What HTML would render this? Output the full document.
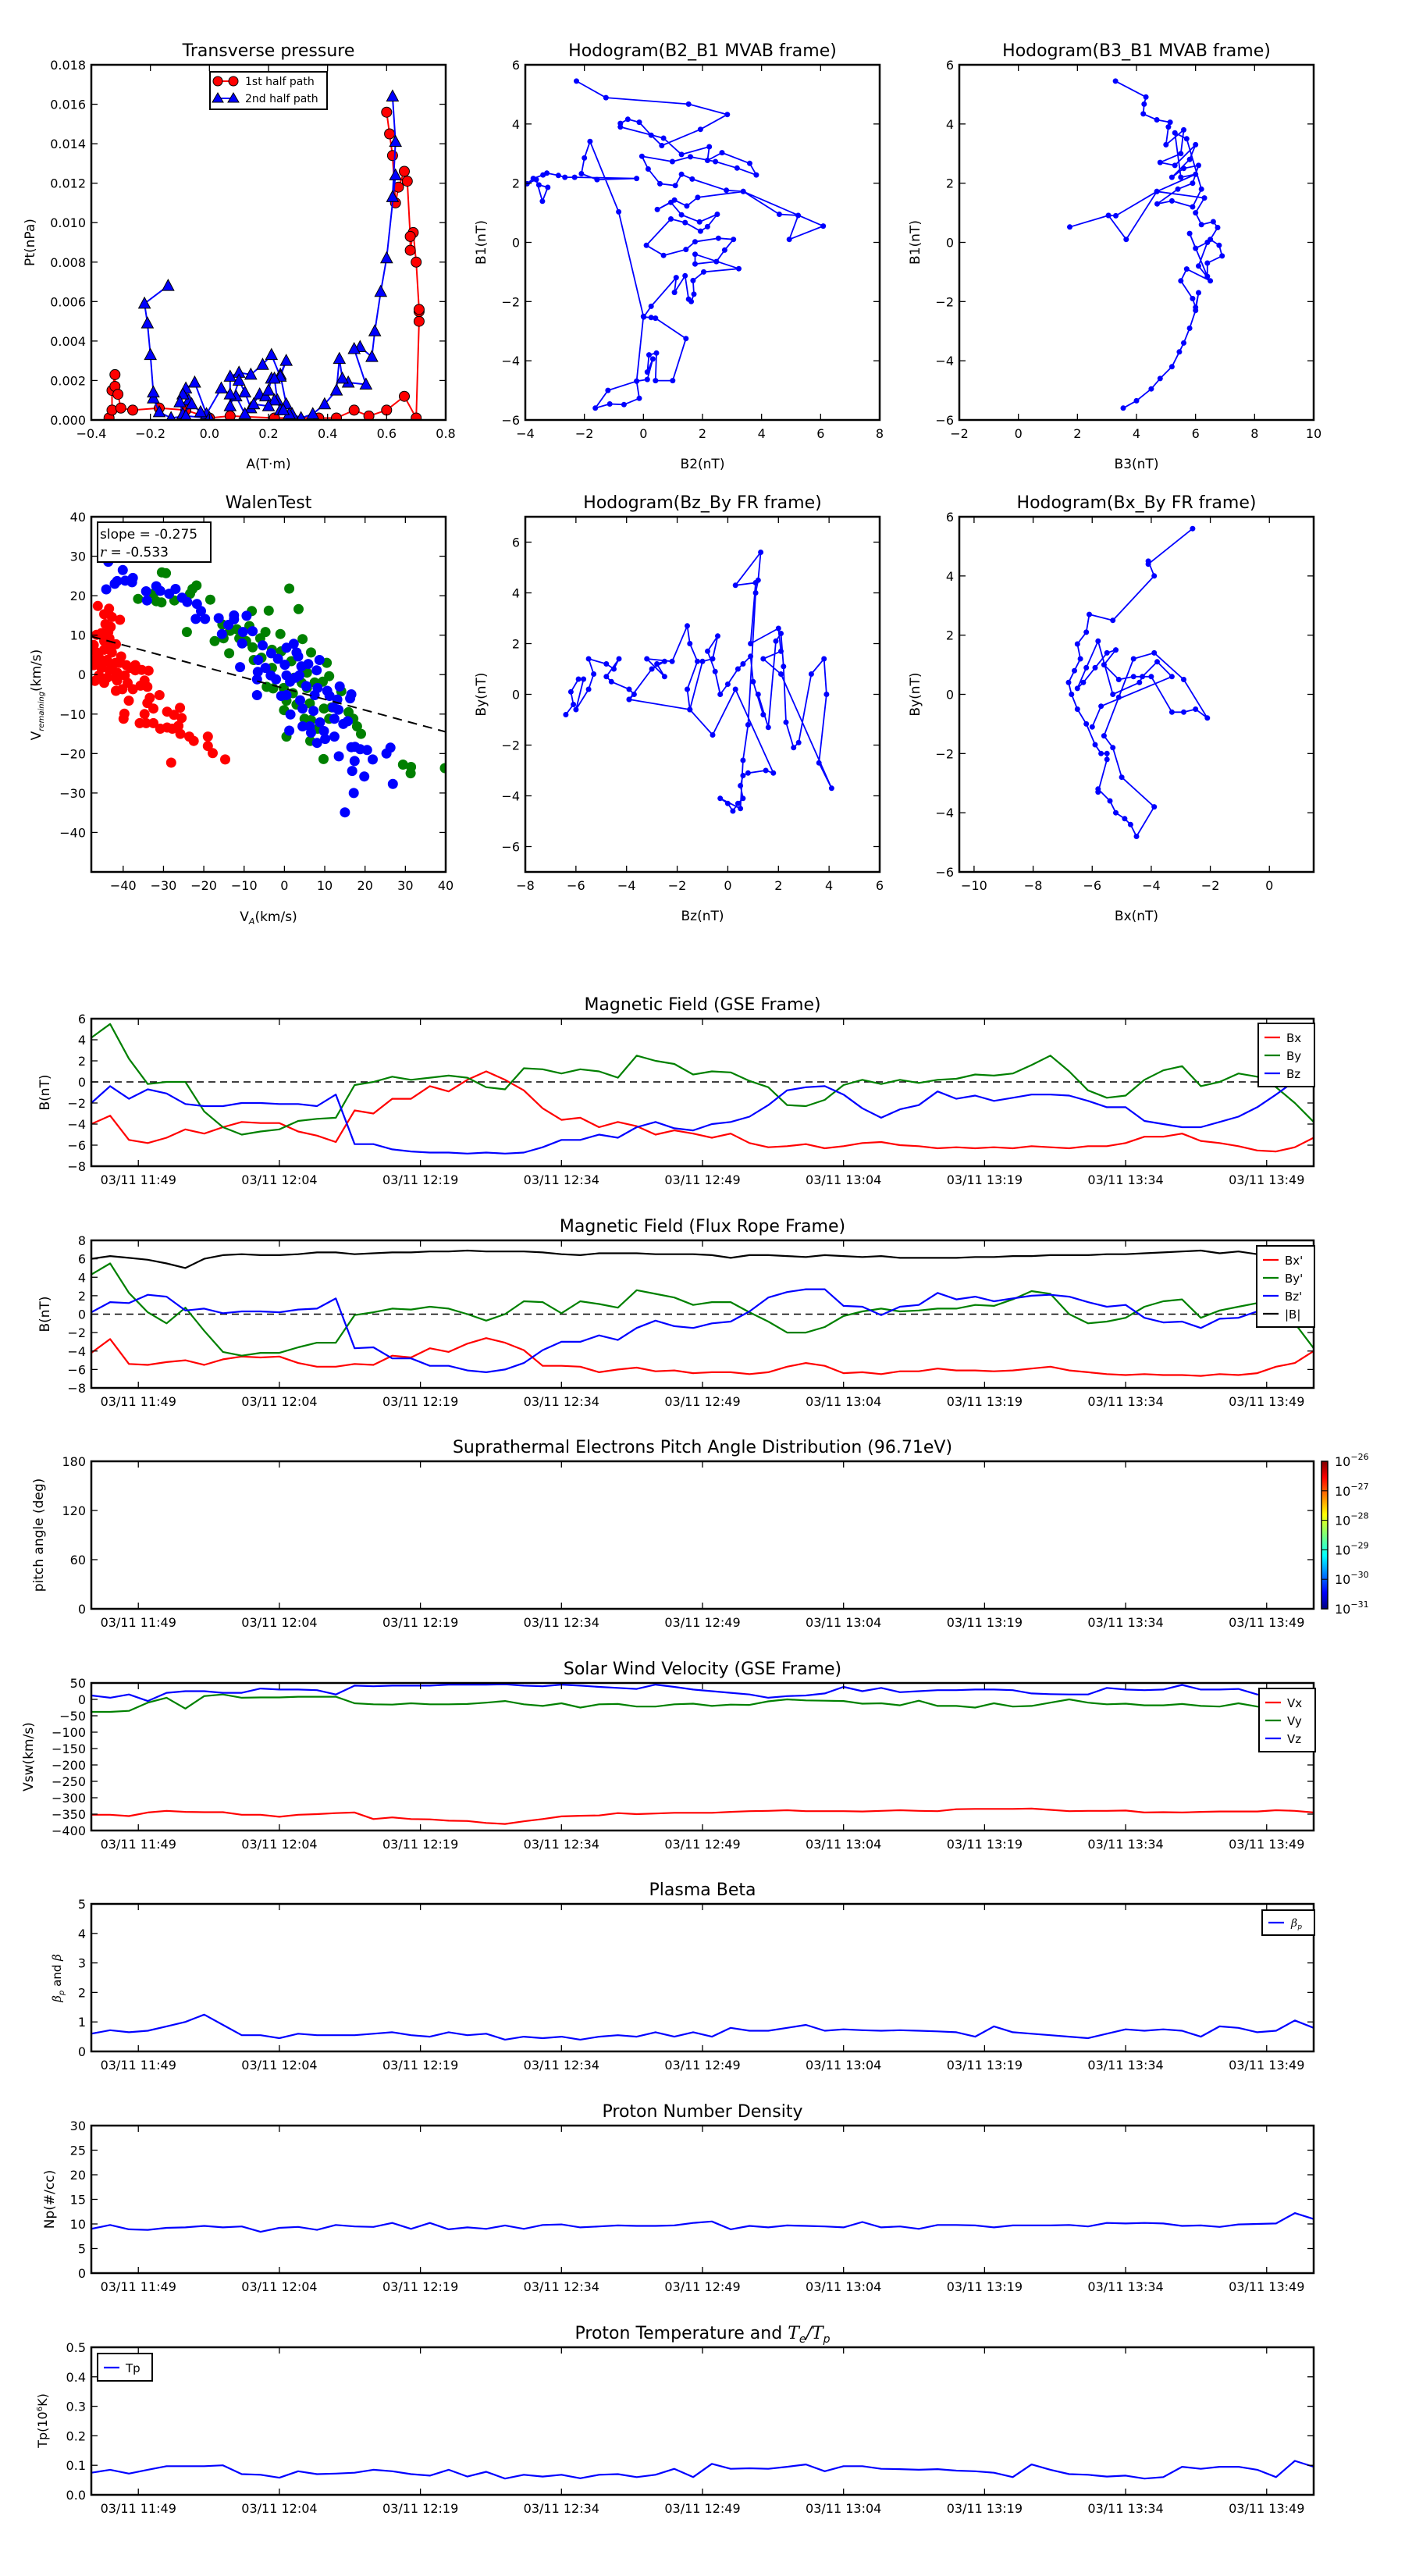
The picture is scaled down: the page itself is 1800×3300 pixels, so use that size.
<!DOCTYPE html>
<html><head><meta charset="utf-8"><title>Flux rope analysis</title>
<style>
html,body{margin:0;padding:0;background:#fff;}
svg{display:block;font-family:"DejaVu Sans","Liberation Sans",sans-serif;}
</style></head>
<body>
<svg id="fig" width="1800" height="3300" viewBox="0 0 1800 3300" xmlns="http://www.w3.org/2000/svg">
<defs>
<linearGradient id="jet" x1="0" y1="1" x2="0" y2="0">
<stop offset="0" stop-color="#00007f"/><stop offset="0.11" stop-color="#0000ff"/><stop offset="0.36" stop-color="#00ffff"/><stop offset="0.5" stop-color="#7dff7a"/><stop offset="0.64" stop-color="#ffff00"/><stop offset="0.89" stop-color="#ff0000"/><stop offset="1" stop-color="#7f0000"/>
</linearGradient>
</defs>
</svg>
<script>
// ---------- time series data (2-min samples from 11:44) ----------
const tLabels = ["03/11 11:49","03/11 12:04","03/11 12:19","03/11 12:34","03/11 12:49","03/11 13:04","03/11 13:19","03/11 13:34","03/11 13:49"];
const tTicks = [5,20,35,50,65,80,95,110,125];
const gseBx = [-4.0,-3.2,-5.5,-5.8,-5.3,-4.5,-4.9,-4.3,-3.8,-3.9,-3.9,-4.7,-5.1,-5.7,-2.7,-3.0,-1.6,-1.6,-0.4,-0.9,0.2,1.0,0.2,-0.8,-2.5,-3.6,-3.4,-4.3,-3.8,-4.2,-5.0,-4.6,-4.9,-5.3,-4.9,-5.8,-6.2,-6.1,-5.9,-6.3,-6.1,-5.8,-5.7,-6.0,-6.1,-6.3,-6.2,-6.3,-6.2,-6.3,-6.1,-6.2,-6.3,-6.1,-6.1,-5.8,-5.2,-5.2,-4.9,-5.6,-5.8,-6.1,-6.5,-6.6,-6.2,-5.3];
const gseBy = [4.2,5.5,2.2,-0.2,0,0,-2.8,-4.3,-5.0,-4.7,-4.5,-3.7,-3.5,-3.4,-0.3,0,0.5,0.2,0.4,0.6,0.4,-0.5,-0.7,1.3,1.2,0.8,1.2,1.0,0.4,2.5,2.0,1.7,0.7,1.0,0.9,0.1,-0.5,-2.2,-2.3,-1.7,-0.3,0.2,-0.2,0.2,-0.1,0.2,0.3,0.7,0.6,0.8,1.6,2.5,1.0,-0.8,-1.5,-1.3,0.2,1.1,1.5,-0.4,0,0.8,0.5,-0.5,-2.0,-3.8];
const gseBz = [-2,-0.4,-1.6,-0.7,-1.1,-2.1,-2.3,-2.3,-2.0,-2.0,-2.1,-2.1,-2.3,-1.2,-5.9,-5.9,-6.4,-6.6,-6.7,-6.7,-6.8,-6.7,-6.8,-6.7,-6.2,-5.5,-5.5,-5.0,-5.3,-4.3,-3.8,-4.4,-4.6,-4.0,-3.8,-3.3,-2.2,-0.8,-0.5,-0.4,-1.2,-2.5,-3.4,-2.6,-2.2,-0.9,-1.6,-1.3,-1.8,-1.5,-1.2,-1.2,-1.3,-1.8,-2.4,-2.4,-3.7,-4.0,-4.3,-4.3,-3.8,-3.3,-2.4,-1.2,0.1,1.8];
const frBx = [-4.2,-2.7,-5.4,-5.5,-5.2,-5.0,-5.5,-4.9,-4.6,-4.7,-4.6,-5.3,-5.7,-5.7,-5.4,-5.5,-4.5,-4.7,-3.7,-4.1,-3.2,-2.6,-3.1,-3.9,-5.6,-5.6,-5.7,-6.3,-6.0,-5.8,-6.2,-6.1,-6.4,-6.3,-6.3,-6.5,-6.3,-5.7,-5.3,-5.6,-6.4,-6.3,-6.5,-6.2,-6.2,-5.9,-6.1,-6.1,-6.2,-6.1,-5.9,-5.7,-6.1,-6.3,-6.5,-6.6,-6.5,-6.6,-6.6,-6.7,-6.5,-6.6,-6.4,-5.7,-5.3,-4.0];
const frBy = [4.3,5.5,2.3,0.2,-1.0,0.7,-1.8,-4.1,-4.5,-4.2,-4.2,-3.6,-3.1,-3.1,-0.1,0.2,0.6,0.5,0.8,0.6,0,-0.7,0,1.4,1.3,0.1,1.4,1.1,0.7,2.6,2.2,1.8,1.0,1.3,1.3,0.2,-0.8,-2.0,-2.0,-1.4,-0.2,0.3,0.6,0.3,0.4,0.6,0.6,1.0,0.9,1.6,2.5,2.2,0.0,-1.0,-0.8,-0.4,0.8,1.4,1.6,-0.4,0.4,0.8,1.2,-0.5,-1.0,-3.7];
const frBz = [0.2,1.3,1.2,2.1,1.9,0.4,0.6,0.1,0.3,0.3,0.2,0.5,0.6,1.7,-3.7,-3.6,-4.8,-4.8,-5.6,-5.6,-6.1,-6.3,-6.0,-5.3,-3.9,-3.0,-3.0,-2.3,-2.8,-1.5,-0.7,-1.3,-1.5,-1.0,-0.8,0.3,1.8,2.4,2.7,2.7,0.9,0.8,-0.1,0.8,1.0,2.3,1.6,1.9,1.4,1.7,2.0,2.1,1.9,1.3,0.8,1.0,-0.4,-0.9,-0.8,-1.5,-0.5,-0.4,0.3,1.5,2.8,4.0];
const frBt = [6.0,6.3,6.1,5.9,5.5,5.0,6.0,6.4,6.5,6.4,6.4,6.5,6.7,6.7,6.5,6.6,6.7,6.7,6.8,6.8,6.9,6.8,6.8,6.8,6.7,6.5,6.4,6.6,6.6,6.6,6.5,6.5,6.5,6.4,6.1,6.4,6.4,6.3,6.2,6.4,6.3,6.2,6.3,6.1,6.1,6.1,6.1,6.2,6.2,6.3,6.3,6.4,6.4,6.4,6.5,6.5,6.6,6.7,6.8,6.9,6.6,6.8,6.5,6.5,6.8,6.6];
const vx = [-352,-352,-356,-345,-340,-343,-344,-344,-352,-352,-358,-352,-350,-347,-345,-365,-360,-365,-366,-370,-371,-377,-380,-372,-365,-357,-355,-354,-347,-350,-348,-346,-346,-346,-343,-341,-340,-338,-341,-341,-341,-342,-340,-338,-340,-341,-335,-334,-334,-334,-333,-337,-341,-340,-340,-339,-345,-344,-345,-343,-342,-342,-342,-338,-340,-345];
const vy = [-38,-38,-35,-10,5,-28,10,15,5,6,6,8,8,8,-12,-15,-16,-12,-15,-15,-14,-10,-5,-15,-20,-12,-25,-15,-14,-22,-22,-15,-13,-20,-16,-17,-6,0,-3,-4,-5,-13,-12,-18,-4,-20,-20,-25,-12,-22,-20,-10,0,-10,-15,-13,-18,-18,-14,-20,-22,-12,-22,-30,-35,-45];
const vz = [12,5,15,-5,20,25,25,20,20,33,30,30,28,15,42,40,42,42,42,45,45,45,46,42,40,45,42,38,35,32,45,38,30,25,20,15,5,10,12,18,38,25,35,22,25,28,28,30,30,28,18,16,15,15,35,30,28,30,44,30,30,32,15,12,10,0];
const beta = [0.6,0.72,0.65,0.7,0.85,1.0,1.25,0.9,0.55,0.55,0.45,0.6,0.55,0.55,0.55,0.6,0.65,0.55,0.5,0.65,0.55,0.6,0.4,0.5,0.45,0.5,0.4,0.5,0.55,0.5,0.65,0.5,0.65,0.5,0.8,0.7,0.7,0.8,0.9,0.7,0.75,0.72,0.7,0.72,0.7,0.68,0.65,0.5,0.85,0.65,0.6,0.55,0.5,0.45,0.6,0.75,0.7,0.75,0.7,0.5,0.85,0.8,0.65,0.7,1.05,0.8];
const np = [9,9.8,8.9,8.8,9.2,9.3,9.6,9.3,9.5,8.4,9.2,9.4,8.8,9.8,9.5,9.4,10.2,9,10.2,8.9,9.3,9,9.7,9,9.8,9.9,9.3,9.5,9.7,9.6,9.6,9.7,10.2,10.5,8.9,9.6,9.3,9.7,9.6,9.5,9.3,10.4,9.3,9.5,9,9.8,9.8,9.7,9.3,9.7,9.7,9.7,9.8,9.5,10.2,10.1,10.2,10.1,9.6,9.7,9.4,9.9,10,10.1,12.2,11];
const tp = [0.075,0.085,0.072,0.085,0.097,0.097,0.097,0.1,0.07,0.068,0.058,0.08,0.07,0.072,0.075,0.085,0.08,0.07,0.065,0.085,0.062,0.078,0.055,0.068,0.062,0.068,0.056,0.068,0.07,0.06,0.068,0.088,0.06,0.105,0.088,0.09,0.088,0.095,0.103,0.08,0.097,0.097,0.088,0.087,0.085,0.087,0.082,0.08,0.075,0.06,0.103,0.085,0.07,0.068,0.062,0.065,0.055,0.06,0.095,0.088,0.095,0.095,0.085,0.06,0.115,0.095];

// ---------- scatter / hodogram data ----------
const ptRedA = [-0.34,-0.33,-0.33,-0.32,-0.32,-0.31,-0.30,-0.26,-0.17,-0.08,0.0,0.07,0.22,0.37,0.43,0.49,0.54,0.60,0.66,0.70,0.71,0.71,0.71,0.70,0.69,0.68,0.68,0.67,0.66,0.64,0.63,0.62,0.61,0.60];
const ptRedP = [0.0001,0.0005,0.0015,0.0023,0.0017,0.0013,0.0006,0.0005,0.0006,0.0005,0.0001,0.0002,0.0001,0.0001,0.0001,0.0005,0.0002,0.0005,0.0012,0.0001,0.005,0.0055,0.0056,0.008,0.0095,0.0086,0.0093,0.0121,0.0126,0.0118,0.0110,0.0134,0.0145,0.0156];
const ptBlueA = [0.62,0.63,0.62,0.63,0.60,0.58,0.56,0.55,0.51,0.49,0.53,0.47,0.45,0.44,0.43,0.39,0.35,0.31,0.28,0.26,0.24,0.26,0.24,0.21,0.18,0.14,0.10,0.07,0.07,0.10,0.12,0.14,0.17,0.19,0.2,0.21,0.22,0.23,0.24,0.27,0.25,0.22,0.2,0.15,0.12,0.09,0.07,0.04,-0.01,-0.05,-0.08,-0.07,-0.09,-0.1,-0.09,-0.06,-0.03,0.0,-0.08,-0.13,-0.17,-0.19,-0.19,-0.2,-0.21,-0.22,-0.14];
const ptBlueP = [0.0164,0.0141,0.0113,0.0124,0.0082,0.0065,0.0045,0.0032,0.0037,0.0036,0.0018,0.0019,0.0021,0.0031,0.0015,0.0008,0.0003,0.0001,0.0003,0.0008,0.0023,0.0030,0.0022,0.0033,0.0028,0.0023,0.0024,0.0022,0.0007,0.0020,0.0014,0.0006,0.0013,0.0012,0.0015,0.0021,0.0021,0.0010,0.0005,0.0003,0.0005,0.0010,0.0007,0.0008,0.0003,0.0012,0.0013,0.0016,0.0003,0.0019,0.0016,0.0010,0.0013,0.0009,0.0003,0.0008,0.0004,0.0001,0.0002,0.0001,0.0004,0.0011,0.0014,0.0033,0.0049,0.0059,0.0068];

const h1x = [-2.27,-1.27,1.53,2.84,1.93,0.62,0.26,-0.14,-0.53,-0.78,-0.78,0.68,1.29,2.23,2.17,2.66,3.6,3.82,3.17,2.44,1.59,0.98,-0.05,0.16,0.56,1.08,1.29,1.65,2.81,3.38,4.6,5.24,4.94,6.09,3.38,1.84,1.47,1.05,0.47,0.93,1.29,1.9,2.5,2.17,1.93,1.41,0.93,0.1,0.68,1.44,1.75,2.54,3.05,2.75,2.47,1.75,1.75,3.23,2.04,1.68,1.71,1.62,1.53,1.41,1.05,1.11,0.26,0.01,0.26,0.41,1.44,0.99,0.41,0.44,0.19,0.13,0.32,0.13,-0.23,-0.14,-0.66,-1.14,-1.63,-1.2,-0.23,0.0,-0.84,-1.81,-2.0,-2.1,-1.57,-0.23,-2.33,-2.66,-2.88,-3.27,-3.4,-3.73,-3.94,-3.63,-3.42,-3.24,-3.54];
const h1y = [5.45,4.89,4.67,4.32,3.82,3.27,3.62,4.06,4.16,4.02,3.9,3.52,2.97,3.23,2.77,3.03,2.67,2.28,2.51,2.73,2.89,2.73,2.91,2.48,1.98,1.92,2.30,2.14,1.76,1.72,0.95,0.91,0.1,0.55,1.72,1.52,1.23,1.43,1.11,1.35,0.93,0.69,0.95,0.53,0.38,0.67,0.79,-0.1,-0.44,-0.24,0.02,0.14,0.1,-0.26,-0.65,-0.73,-0.40,-0.89,-1.0,-1.29,-1.75,-2.0,-1.92,-1.13,-1.69,-1.19,-2.16,-2.52,-2.54,-2.56,-3.25,-4.67,-4.67,-3.74,-3.80,-4.38,-3.94,-4.63,-4.69,-5.27,-5.48,-5.46,-5.6,-5.0,-4.69,-2.5,1.03,3.41,2.85,2.32,2.12,2.16,2.2,2.2,2.26,2.34,2.28,2.16,1.98,2.12,1.39,1.86,1.94];

const h2x = [3.29,4.32,4.26,4.23,4.69,5.14,5.08,5.0,5.6,5.5,4.8,5.3,6.0,5.8,5.2,5.6,6.1,5.9,5.4,4.7,5.2,5.9,6.2,5.7,5.3,5.5,6.0,4.69,3.3,3.05,1.74,3.05,3.65,4.69,6.3,6.0,6.2,6.6,6.75,6.5,6.8,6.9,6.4,6.4,5.8,6.0,6.4,6.1,6.5,5.7,5.5,5.9,6.0,6.1,6.0,5.8,5.6,5.45,5.2,4.8,4.5,4.0,3.55];
const h2y = [5.45,4.91,4.67,4.34,4.14,4.06,3.9,3.3,3.8,3.0,2.7,2.6,3.3,2.8,2.2,2.5,2.6,2.0,1.8,1.3,1.4,1.2,1.8,3.5,3.7,2.2,2.3,1.72,0.9,0.91,0.52,0.91,0.1,1.72,1.5,1.0,0.6,0.7,0.5,0.1,-0.1,-0.46,-0.7,-1.15,0.3,-0.2,0.0,-0.8,-1.3,-0.9,-1.3,-1.9,-2.2,-1.7,-2.3,-2.9,-3.4,-3.7,-4.2,-4.6,-4.95,-5.35,-5.6];

const wRedX = [-46.3,-43.5,-44.7,-42.8,-40.8,-44.4,-43.1,-43.7,-46.6,-45.4,-43.4,-41.8,-47.3,-44.7,-42.8,-40.5,-46,-44,-41.9,-39.2,-37,-47.3,-45.4,-43.4,-41.5,-39.6,-37,-35.4,-33.7,-47,-44.7,-41.5,-38.9,-37.6,-41.8,-40.2,-35.7,-34,-34.7,-38.6,-33.4,-34,-31,-32.5,-39.7,-39.9,-34.7,-35.9,-34.3,-32.5,-29.1,-27.4,-25.9,-25.5,-30.8,-29.1,-27.8,-26.3,-25.8,-23.6,-22.5,-19,-19,-17.8,-14.7,-28.1,-46.6,-45,-42.8,-40.8,-38.2,-46,-44,-41.9,-47.3,-43.4,-44.7];
const wRedY = [17.4,16.7,15.3,14.6,13.9,12.8,12.1,10.8,10.1,10.5,9.2,7.7,7.5,6.3,5.6,4.6,4.3,3.7,3.0,2.4,2.4,2.4,1.7,1.1,0.5,-0.2,1.1,1.2,1.0,-1.6,-2.1,-1.5,-2.1,-3.7,-4.1,-3.7,-2.8,-3.1,-1.5,-6.6,-5.9,-7.2,-5.2,-8.6,-9.9,-11.2,-10,-12.3,-12.3,-12.3,-9.4,-10.2,-8.4,-11,-13.7,-13.4,-13.7,-13,-15,-15.7,-16.8,-15.7,-18.1,-19.9,-21.5,-22.3,5.6,3,2.4,3,1.7,-0.2,-0.8,-0.8,3.7,6.9,8.5];
const wBlueX = [-43.7,-40.1,-44.2,-42.1,-41.5,-39.5,-37.6,-37.8,-31.8,-30.8,-34.3,-34.1,-28.6,-27,-25.4,-24.1,-21.7,-20.7,-22,-19.7,-16.3,-12.5,-12.5,-9.4,-13.9,-15.5,-10.3,-7.9,-10.5,-5.4,-3.3,-1.6,-6.5,-11,0.5,2.3,3,3.4,0.1,5.9,8.7,8,4.2,-6.6,-4.7,-3.4,-2.1,0.5,1.4,2.7,3.7,5.4,-6.8,-6.8,-0.8,0.5,3.9,8.2,10.6,11.2,13.7,13.1,7.5,7.2,4.5,1.5,12.1,13.4,12.4,14.6,15.7,16.3,16.6,8.8,4.5,6.3,6.6,9.8,10.1,8.1,12.4,1.2,16.6,17.5,18.8,20.5,13.5,17.4,21.9,25.3,26.3,16.8,19.8,26.9,17.2,15];
const wBlueY = [28.6,26.5,21.6,23,23.7,23.8,24.5,23.4,22.4,21.2,21.1,18.8,20.5,21.7,19.5,18.4,17.9,16.1,14.1,14.1,14.3,15,14,14.9,12.6,10.3,10.8,11,7.9,7.4,5.4,4,3.7,1.9,6.8,7.8,5.6,4.6,2.5,2.7,3.7,1.1,2.1,0.7,1.7,-0.2,-1.2,-0.2,-1.8,-0.8,-0.2,-2.9,-1.2,-5.2,-5.4,-5.2,-6.5,-3.4,-4.1,-5.4,-3,-6.3,-5.2,-9.2,-8.6,-10.1,-8.3,-8.9,-11.2,-12.5,-11.8,-6,-5,-12.1,-13.1,-13.1,-14.7,-14.3,-16.3,-17.3,-15.7,-14.2,-18.4,-18.3,-18.9,-19.1,-20.7,-21.9,-21.5,-20,-18.5,-24.4,-25.8,-27.7,-30,-34.9];
const wGreenX = [-30.4,-29.4,-36.3,-32.5,-31.8,-30.5,-27.3,-22.8,-21.8,-23.4,-18.4,-24.2,-17.3,-13.7,-15.4,-13.5,-11.8,-15.1,-11.2,-9.5,-8.7,-8.1,-3.9,1.2,3.5,-4.7,-6,-7.9,-7.6,-5.7,-3.1,-1,-0.8,1.7,4.5,6.6,10.5,11.1,9.5,5.6,7.5,-3.1,-4.4,-2.8,-0.2,0.5,2.1,3,6.3,-0.1,5,6.6,6.4,0.5,8.2,9.8,14.1,15.9,17.1,18,19,9.7,29.4,31.4,31.3,39.8,4.3,2.4,5.6,11.7,11.1];
const wGreenY = [25.9,25.7,19.2,20.5,18.6,18.3,18.8,21.7,22.6,20.5,19,10.8,8.5,5.4,12.7,11.1,11.5,9.2,9.2,8.5,12.3,16.1,16.2,21.8,16.6,10.8,9.2,6.9,3.7,4.3,6.3,10.3,5.9,3.4,9,5.6,3,-0.4,-1.8,0.5,-2,1.7,-3.1,-3.5,-3.4,-6.6,-4.7,-7.6,-7.3,-9,-11.2,-11.5,-16.8,-15.7,-13.7,-8.6,-4.2,-9.5,-11.2,-13.1,-15,-21.4,-22.8,-23.4,-25,-23.7,-2.1,-0.8,-3.4,-8.3,-11.2];
const walenSlope = -0.275;
const walenIntercept = -3.5;

const h3x = [-6.4,-6.1,-6.2,-5.9,-5.7,-6,-5.5,-5.3,-5.5,-4.8,-4.5,-4.3,-4.8,-4.6,-3.9,-3.7,-3.9,-3.0,-2.5,-2.8,-2.5,-3.2,-2.2,-1.6,-1.5,-1.2,-1.6,-1.5,-1.0,-0.6,-0.4,-0.8,-0.5,-0.3,0,0.4,0.6,0.9,1.0,1.4,1.2,1.6,1.9,2.1,2.2,2.3,2.6,2.8,3.3,3.8,3.9,3.6,4.1,2.1,1.4,2.1,2.0,0.9,1.1,0.3,1.3,1.2,1.1,0.8,0.6,0.5,-0.3,0.0,0.2,0.4,0.6,0.5,0.6,0.8,1.5,1.8,0.3,-0.6,-1.5,-3.9];
const h3y = [-0.8,-0.4,0.1,0.6,0.6,-0.6,0.2,0.8,1.4,1.2,1.0,1.4,0.7,0.5,0.2,0.0,-0.2,1.0,1.3,1.2,0.7,1.4,1.3,2.7,2.0,1.3,0.2,-0.6,1.3,1.4,2.3,1.7,0.9,0.0,0.4,1.0,1.2,1.5,0.5,-0.8,0.0,-1.3,2.1,2.4,1.1,-1.1,-2.1,-1.9,0.8,1.4,0.0,-2.7,-3.7,0.8,1.4,1.7,2.6,2.0,4.4,4.3,5.6,4.5,4.0,-1.2,-2.6,-4.5,-4.1,-4.3,-4.6,-4.3,-4.1,-3.6,-3.2,-3.1,-3.0,-3.1,0.2,-1.6,-0.6,-0.2];

const h4x = [-2.6,-4.1,-4.1,-3.9,-5.3,-6.1,-6.2,-6.5,-6.4,-6.6,-6.8,-6.7,-6.5,-6.2,-5.9,-5.7,-5.5,-5.5,-5.8,-5.8,-5.4,-5.2,-4.9,-4.7,-4.5,-3.9,-5.0,-5.3,-5.6,-5.1,-4.6,-3.9,-2.9,-2.1,-2.5,-2.9,-3.3,-4.0,-4.6,-5.1,-5.6,-5.2,-5.5,-5.9,-6.3,-6.5,-6.2,-5.8,-5.3,-4.4,-4.3,-3.8,-3.3,-5.7,-6.0];
const h4y = [5.6,4.4,4.5,4.0,2.5,2.7,2.1,1.7,1.2,0.8,0.4,0.0,-0.5,-1.0,-1.7,-2.0,-2.0,-2.2,-3.3,-3.2,-3.6,-4.0,-4.2,-4.4,-4.8,-3.8,-2.8,-1.8,-1.4,-0.1,1.2,1.4,0.5,-0.8,-0.5,-0.6,-0.6,0.6,0.6,0.5,1.0,1.5,1.4,0.9,0.4,0.2,0.9,1.8,0.0,0.4,0.6,1.1,0.6,-0.4,-1.1];

// ---------- helpers ----------
const svg = document.getElementById('fig');
const NS = 'http://www.w3.org/2000/svg';
function el(tag, attrs, parent){ const e = document.createElementNS(NS, tag); for (const k in attrs) e.setAttribute(k, attrs[k]); (parent || svg).appendChild(e); return e; }
function txt(str, attrs, parent){ const e = el('text', attrs, parent); e.textContent = str; return e; }
function fmtNum(v, d){ const s = v.toFixed(d); return s.charAt(0) === '-' ? '\u2212' + s.slice(1) : s; }
let clipId = 0;

function makeAxes(o){
  const g = el('g', {});
  
  
  const sx = v => o.x0 + (v - o.xmin) / (o.xmax - o.xmin) * o.w;
  const sy = v => o.y0 + o.h - (v - o.ymin) / (o.ymax - o.ymin) * o.h;
  const cid = 'clip' + (clipId++);
  const cp = el('clipPath', {id: cid}, g);
  el('rect', {x: o.x0, y: o.y0, width: o.w, height: o.h}, cp);
  const data = el('g', {'clip-path': 'url(#' + cid + ')'}, g);
  
  
  const frame = el('g', {}, g);
  // ticks
  o.xticks.forEach((v, i) => {
    const x = sx(v);
    el('line', {x1: x, x2: x, y1: o.y0 + o.h, y2: o.y0 + o.h - 8, stroke: '#000', 'stroke-width': 1.3}, frame);
    el('line', {x1: x, x2: x, y1: o.y0, y2: o.y0 + 8, stroke: '#000', 'stroke-width': 1.3}, frame);
    const t = txt(o.xlabels[i], {x: x, y: o.y0 + o.h + 23, 'font-size': 16, 'text-anchor': 'middle', fill: '#000'}, frame);
    
    
  });
  o.yticks.forEach((v, i) => {
    const y = sy(v);
    el('line', {x1: o.x0, x2: o.x0 + 8, y1: y, y2: y, stroke: '#000', 'stroke-width': 1.3}, frame);
    el('line', {x1: o.x0 + o.w, x2: o.x0 + o.w - 8, y1: y, y2: y, stroke: '#000', 'stroke-width': 1.3}, frame);
    const t = txt(o.ylabels[i], {x: o.x0 - 7, y: y + 6, 'font-size': 16, 'text-anchor': 'end', fill: '#000'}, frame);
    
    
  });
  const r = el('rect', {x: o.x0, y: o.y0, width: o.w, height: o.h, fill: 'none', stroke: '#000', 'stroke-width': 2.5}, frame);
  
  
  const tt = txt(o.title, {x: o.x0 + o.w / 2, y: o.y0 - 11, 'font-size': 22, 'text-anchor': 'middle', fill: '#000'}, frame);
  
  
  if (o.xtitle){
    const xt = txt(o.xtitle, {x: o.x0 + o.w / 2, y: o.y0 + o.h + 62, 'font-size': 17, 'text-anchor': 'middle', fill: '#000'}, frame);
    
    
  }
  if (o.ytitle){
    const cx = o.ytx, cy = o.y0 + o.h / 2;
    const yt = txt(o.ytitle, {x: cx, y: cy, 'font-size': 17, 'text-anchor': 'middle', fill: '#000', transform: 'rotate(-90 ' + cx + ' ' + cy + ')'}, frame);
    
    
  }
  return {sx, sy, data, frame, g};
}
function range(a, b, s){ const r = []; for (let v = a; v <= b + 1e-9; v += s) r.push(+v.toFixed(6)); return r; }
function polyline(ax, xs, ys, color, name, w){
  const pts = xs.map((x, i) => ax.sx(x).toFixed(1) + ',' + ax.sy(ys[i]).toFixed(1)).join(' ');
  const p = el('polyline', {points: pts, fill: 'none', stroke: color, 'stroke-width': w || 2.2, 'stroke-linejoin': 'round'}, ax.data);
  
  
  return p;
}
function dots(ax, xs, ys, color, r, name, stroke){
  xs.forEach((x, i) => {
    const c = el('circle', {cx: ax.sx(x).toFixed(1), cy: ax.sy(ys[i]).toFixed(1), r: r, fill: color, stroke: stroke || 'none', 'stroke-width': 1}, ax.data);
    
    
  });
}
function tris(ax, xs, ys, color, name){
  xs.forEach((x, i) => {
    const cx = ax.sx(x), cy = ax.sy(ys[i]);
    const p = el('polygon', {points: [cx, cy - 8, cx - 7.5, cy + 6, cx + 7.5, cy + 6].join(','), fill: color, stroke: '#000', 'stroke-width': 1}, ax.data);
    
    
  });
}
function legend(parent, x, y, w, entries, name){
  const g = el('g', {}, parent);
  
  
  const h = entries.length * 23 + 12;
  el('rect', {x: x, y: y, width: w, height: h, fill: '#fff', stroke: '#000', 'stroke-width': 2}, g);
  entries.forEach((e, i) => {
    const yy = y + 18 + i * 23;
    el('line', {x1: x + 8, x2: x + 28, y1: yy, y2: yy, stroke: e[1], 'stroke-width': 2.2}, g);
    const t = txt(e[0], {x: x + 36, y: yy + 6, 'font-size': 15, fill: '#000'}, g);
    
    
  });
}

// ---------- top row ----------
const ax1 = makeAxes({name: 'transverse-pressure', x0: 117, y0: 83, w: 454, h: 455, xmin: -0.4, xmax: 0.8, ymin: 0, ymax: 0.018,
  xticks: range(-0.4, 0.8, 0.2), xlabels: range(-0.4, 0.8, 0.2).map(v => fmtNum(v, 1)),
  yticks: range(0, 0.018, 0.002), ylabels: range(0, 0.018, 0.002).map(v => fmtNum(v, 3)),
  title: 'Transverse pressure', xtitle: 'A(T\u00b7m)', ytitle: 'Pt(nPa)', ytx: 44});
polyline(ax1, ptRedA, ptRedP, '#f00', 'first-half-path-line', 2);
dots(ax1, ptRedA, ptRedP, '#f00', 6.5, 'first-half-point', '#000');
polyline(ax1, ptBlueA, ptBlueP, '#00f', 'second-half-path-line', 2);
tris(ax1, ptBlueA, ptBlueP, '#00f', 'second-half-point');
(function(){
  const g = el('g', {}, ax1.frame);
  
  
  el('rect', {x: 269, y: 92, width: 150, height: 48, fill: '#fff', stroke: '#000', 'stroke-width': 2}, g);
  el('line', {x1: 279, x2: 299, y1: 104, y2: 104, stroke: '#f00', 'stroke-width': 2}, g);
  el('circle', {cx: 279, cy: 104, r: 6, fill: '#f00', stroke: '#000'}, g);
  el('circle', {cx: 299, cy: 104, r: 6, fill: '#f00', stroke: '#000'}, g);
  const t1 = txt('1st half path', {x: 314, y: 109, 'font-size': 14}, g);
  
  
  el('line', {x1: 279, x2: 299, y1: 126, y2: 126, stroke: '#00f', 'stroke-width': 2}, g);
  el('polygon', {points: '279,119 272,131 286,131', fill: '#00f', stroke: '#000'}, g);
  el('polygon', {points: '299,119 292,131 306,131', fill: '#00f', stroke: '#000'}, g);
  const t2 = txt('2nd half path', {x: 314, y: 131, 'font-size': 14}, g);
  
  
})();

const ax2 = makeAxes({name: 'hodogram-b2-b1', x0: 673, y0: 83, w: 454, h: 455, xmin: -4, xmax: 8, ymin: -6, ymax: 6,
  xticks: range(-4, 8, 2), xlabels: range(-4, 8, 2).map(v => fmtNum(v, 0)),
  yticks: range(-6, 6, 2), ylabels: range(-6, 6, 2).map(v => fmtNum(v, 0)),
  title: 'Hodogram(B2_B1 MVAB frame)', xtitle: 'B2(nT)', ytitle: 'B1(nT)', ytx: 622});
polyline(ax2, h1x, h1y, '#00f', 'hodogram-line', 1.8);
dots(ax2, h1x, h1y, '#00f', 3.5, 'hodogram-point');

const ax3 = makeAxes({name: 'hodogram-b3-b1', x0: 1229, y0: 83, w: 454, h: 455, xmin: -2, xmax: 10, ymin: -6, ymax: 6,
  xticks: range(-2, 10, 2), xlabels: range(-2, 10, 2).map(v => fmtNum(v, 0)),
  yticks: range(-6, 6, 2), ylabels: range(-6, 6, 2).map(v => fmtNum(v, 0)),
  title: 'Hodogram(B3_B1 MVAB frame)', xtitle: 'B3(nT)', ytitle: 'B1(nT)', ytx: 1178});
polyline(ax3, h2x, h2y, '#00f', 'hodogram-line', 1.8);
dots(ax3, h2x, h2y, '#00f', 3.5, 'hodogram-point');

// ---------- second row ----------
const ax4 = makeAxes({name: 'walen-test', x0: 117, y0: 662, w: 454, h: 455, xmin: -47.9, xmax: 40, ymin: -50, ymax: 40,
  xticks: range(-40, 40, 10), xlabels: range(-40, 40, 10).map(v => fmtNum(v, 0)),
  yticks: range(-40, 40, 10), ylabels: range(-40, 40, 10).map(v => fmtNum(v, 0)),
  title: 'WalenTest', xtitle: '', ytitle: '', ytx: 52});
dots(ax4, wRedX, wRedY, '#f00', 6.5, 'walen-point-red');
dots(ax4, wGreenX, wGreenY, '#008000', 6.5, 'walen-point-green');
dots(ax4, wBlueX, wBlueY, '#00f', 6.5, 'walen-point-blue');
(function(){
  const xa = -47.9, xb = 40;
  const l = el('line', {x1: ax4.sx(xa), y1: ax4.sy(walenSlope * xa + walenIntercept), x2: ax4.sx(xb), y2: ax4.sy(walenSlope * xb + walenIntercept), stroke: '#000', 'stroke-width': 2, 'stroke-dasharray': '12,8'}, ax4.data);
  
  
  const g = el('g', {}, ax4.frame);
  
  
  el('rect', {x: 125, y: 669, width: 145, height: 51, fill: '#fff', stroke: '#000', 'stroke-width': 2}, g);
  txt('slope = ' + fmtNum(walenSlope, 3).replace('\u2212', '-'), {x: 128, y: 690, 'font-size': 17}, g);
  const r2 = el('text', {x: 128, y: 713, 'font-size': 17}, g);
  const ri = el('tspan', {'font-style': 'italic', 'font-family': 'DejaVu Serif, serif'}, r2); ri.textContent = 'r';
  const rr = el('tspan', {}, r2); rr.textContent = ' = -0.533';
  const xt = el('text', {x: 344, y: 1180, 'font-size': 17, 'text-anchor': 'middle'}, ax4.frame);
  
  
  const a1 = el('tspan', {}, xt); a1.textContent = 'V';
  const a2 = el('tspan', {'font-size': 11, dy: 4, 'font-style': 'italic'}, xt); a2.textContent = 'A';
  const a3 = el('tspan', {dy: -4}, xt); a3.textContent = '(km/s)';
  const cy = 890;
  const yt = el('text', {x: 52, y: cy, 'font-size': 17, 'text-anchor': 'middle', transform: 'rotate(-90 52 ' + cy + ')'}, ax4.frame);
  
  
  const b1 = el('tspan', {}, yt); b1.textContent = 'V';
  const b2 = el('tspan', {'font-size': 10, dy: 4, 'font-style': 'italic'}, yt); b2.textContent = 'remaining';
  const b3 = el('tspan', {dy: -4}, yt); b3.textContent = '(km/s)';
})();

const ax5 = makeAxes({name: 'hodogram-bz-by', x0: 673, y0: 662, w: 454, h: 455, xmin: -8, xmax: 6, ymin: -7, ymax: 7,
  xticks: range(-8, 6, 2), xlabels: range(-8, 6, 2).map(v => fmtNum(v, 0)),
  yticks: range(-6, 6, 2), ylabels: range(-6, 6, 2).map(v => fmtNum(v, 0)),
  title: 'Hodogram(Bz_By FR frame)', xtitle: 'Bz(nT)', ytitle: 'By(nT)', ytx: 622});
polyline(ax5, h3x, h3y, '#00f', 'hodogram-line', 1.8);
dots(ax5, h3x, h3y, '#00f', 3.5, 'hodogram-point');

const ax6 = makeAxes({name: 'hodogram-bx-by', x0: 1229, y0: 662, w: 454, h: 455, xmin: -10.5, xmax: 1.5, ymin: -6, ymax: 6,
  xticks: range(-10, 0, 2), xlabels: range(-10, 0, 2).map(v => fmtNum(v, 0)),
  yticks: range(-6, 6, 2), ylabels: range(-6, 6, 2).map(v => fmtNum(v, 0)),
  title: 'Hodogram(Bx_By FR frame)', xtitle: 'Bx(nT)', ytitle: 'By(nT)', ytx: 1178});
polyline(ax6, h4x, h4y, '#00f', 'hodogram-line', 1.8);
dots(ax6, h4x, h4y, '#00f', 3.5, 'hodogram-point');

// ---------- time series ----------
const tArr = gseBx.map((_, i) => i * 2);
function tsAxes(name, y0, ymin, ymax, yt, yl, title, ytitle, ytx){
  return makeAxes({name: name, x0: 117, y0: y0, w: 1566, h: 189, xmin: 0, xmax: 130, ymin: ymin, ymax: ymax,
    xticks: tTicks, xlabels: tLabels, yticks: yt, ylabels: yl, title: title, ytitle: ytitle, ytx: ytx});
}
function zeroLine(ax){
  const l = el('line', {x1: ax.sx(0), x2: ax.sx(130), y1: ax.sy(0), y2: ax.sy(0), stroke: '#000', 'stroke-width': 1.6, 'stroke-dasharray': '9,6'}, ax.data);
  
  
}
const bT = range(-8, 6, 2);
const axG = tsAxes('mag-field-gse', 1305, -8, 6, bT, bT.map(v => fmtNum(v, 0)), 'Magnetic Field (GSE Frame)', 'B(nT)', 63);
zeroLine(axG);
polyline(axG, tArr, gseBx, '#f00', 'bx-line');
polyline(axG, tArr, gseBy, '#008000', 'by-line');
polyline(axG, tArr, gseBz, '#00f', 'bz-line');
legend(axG.frame, 1612, 1311, 72, [['Bx', '#f00'], ['By', '#008000'], ['Bz', '#00f']], 'gse-legend');

const fT = range(-8, 8, 2);
const axF = tsAxes('mag-field-flux-rope', 1589, -8, 8, fT, fT.map(v => fmtNum(v, 0)), 'Magnetic Field (Flux Rope Frame)', 'B(nT)', 63);
zeroLine(axF);
polyline(axF, tArr, frBt, '#000', 'btotal-line');
polyline(axF, tArr, frBx, '#f00', 'bx-prime-line');
polyline(axF, tArr, frBy, '#008000', 'by-prime-line');
polyline(axF, tArr, frBz, '#00f', 'bz-prime-line');
legend(axF.frame, 1610, 1596, 74, [["Bx'", '#f00'], ["By'", '#008000'], ["Bz'", '#00f'], ['|B|', '#000']], 'flux-rope-legend');

const pT = [0, 60, 120, 180];
const axP = tsAxes('pitch-angle-distribution', 1872, 0, 180, pT, pT.map(v => String(v)), 'Suprathermal Electrons Pitch Angle Distribution (96.71eV)', 'pitch angle (deg)', 55);
(function(){
  const g = el('g', {});
  
  
  el('rect', {x: 1693, y: 1872, width: 8, height: 189, fill: 'url(#jet)', stroke: '#000', 'stroke-width': 1.5}, g);
  const exps = [-31, -30, -29, -28, -27, -26];
  exps.forEach((e, i) => {
    const y = 2061 - i * 189 / 5;
    el('line', {x1: 1693, x2: 1701, y1: y, y2: y, stroke: '#000', 'stroke-width': 1}, g);
    const t = el('text', {x: 1710, y: y + 6, 'font-size': 16}, g);
    
    
    const a = el('tspan', {}, t); a.textContent = '10';
    const b = el('tspan', {'font-size': 11, dy: -8}, t); b.textContent = '\u2212' + String(-e);
  });
})();

const vT = range(-400, 50, 50);
const axV = tsAxes('solar-wind-velocity', 2156, -400, 50, vT, vT.map(v => fmtNum(v, 0)), 'Solar Wind Velocity (GSE Frame)', 'Vsw(km/s)', 42);
polyline(axV, tArr, vx, '#f00', 'vx-line');
polyline(axV, tArr, vy, '#008000', 'vy-line');
polyline(axV, tArr, vz, '#00f', 'vz-line');
legend(axV.frame, 1613, 2163, 72, [['Vx', '#f00'], ['Vy', '#008000'], ['Vz', '#00f']], 'velocity-legend');

const btT = range(0, 5, 1);
const axB = tsAxes('plasma-beta', 2439, 0, 5, btT, btT.map(v => String(v)), 'Plasma Beta', '', 75);
polyline(axB, tArr, beta, '#00f', 'beta-line');
(function(){
  const cy = 2534;
  const yt = el('text', {x: 78, y: cy, 'font-size': 15, 'text-anchor': 'middle', transform: 'rotate(-90 78 ' + cy + ')'}, axB.frame);
  
  
  const a = el('tspan', {'font-style': 'italic', 'font-family': 'DejaVu Serif, serif'}, yt); a.textContent = '\u03b2';
  const b = el('tspan', {'font-size': 10, dy: 4, 'font-style': 'italic'}, yt); b.textContent = 'p';
  const c = el('tspan', {dy: -4}, yt); c.textContent = ' and ';
  const d = el('tspan', {'font-style': 'italic', 'font-family': 'DejaVu Serif, serif'}, yt); d.textContent = '\u03b2';
  const g = el('g', {}, axB.frame);
  
  
  el('rect', {x: 1617, y: 2447, width: 67, height: 32, fill: '#fff', stroke: '#000', 'stroke-width': 2}, g);
  el('line', {x1: 1625, x2: 1645, y1: 2463, y2: 2463, stroke: '#00f', 'stroke-width': 2.2}, g);
  const t = el('text', {x: 1654, y: 2468, 'font-size': 14, 'font-style': 'italic', 'font-family': 'DejaVu Serif, serif'}, g);
  const t1 = el('tspan', {}, t); t1.textContent = '\u03b2';
  const t2 = el('tspan', {'font-size': 9, dy: 3}, t); t2.textContent = 'p';
})();

const nT = range(0, 30, 5);
const axN = tsAxes('proton-number-density', 2723, 0, 30, nT, nT.map(v => String(v)), 'Proton Number Density', 'Np(#/cc)', 69);
polyline(axN, tArr, np, '#00f', 'np-line');

const tT = range(0, 0.5, 0.1);
const axT = tsAxes('proton-temperature', 3007, 0, 0.5, tT, tT.map(v => v.toFixed(1)), '', '', 57);
polyline(axT, tArr, tp, '#00f', 'tp-line');
(function(){
  const tt = el('text', {x: 900, y: 2996, 'font-size': 22, 'text-anchor': 'middle'}, axT.frame);
  
  
  const a = el('tspan', {}, tt); a.textContent = 'Proton Temperature and ';
  const b = el('tspan', {'font-style': 'italic', 'font-family': 'DejaVu Serif, serif'}, tt); b.textContent = 'T';
  const c = el('tspan', {'font-size': 14, dy: 5, 'font-style': 'italic'}, tt); c.textContent = 'e';
  const d = el('tspan', {dy: -5, 'font-style': 'italic', 'font-family': 'DejaVu Serif, serif'}, tt); d.textContent = '/T';
  const e = el('tspan', {'font-size': 14, dy: 5, 'font-style': 'italic'}, tt); e.textContent = 'p';
  const cy = 3101;
  const yt = el('text', {x: 60, y: cy, 'font-size': 16, 'text-anchor': 'middle', transform: 'rotate(-90 60 ' + cy + ')'}, axT.frame);
  
  
  const f = el('tspan', {}, yt); f.textContent = 'Tp(10';
  const h = el('tspan', {'font-size': 10, dy: -6}, yt); h.textContent = '6';
  const k = el('tspan', {dy: 6}, yt); k.textContent = 'K)';
})();
legend(axT.frame, 125, 3015, 70, [['Tp', '#00f']], 'tp-legend');
</script>
</body></html>
